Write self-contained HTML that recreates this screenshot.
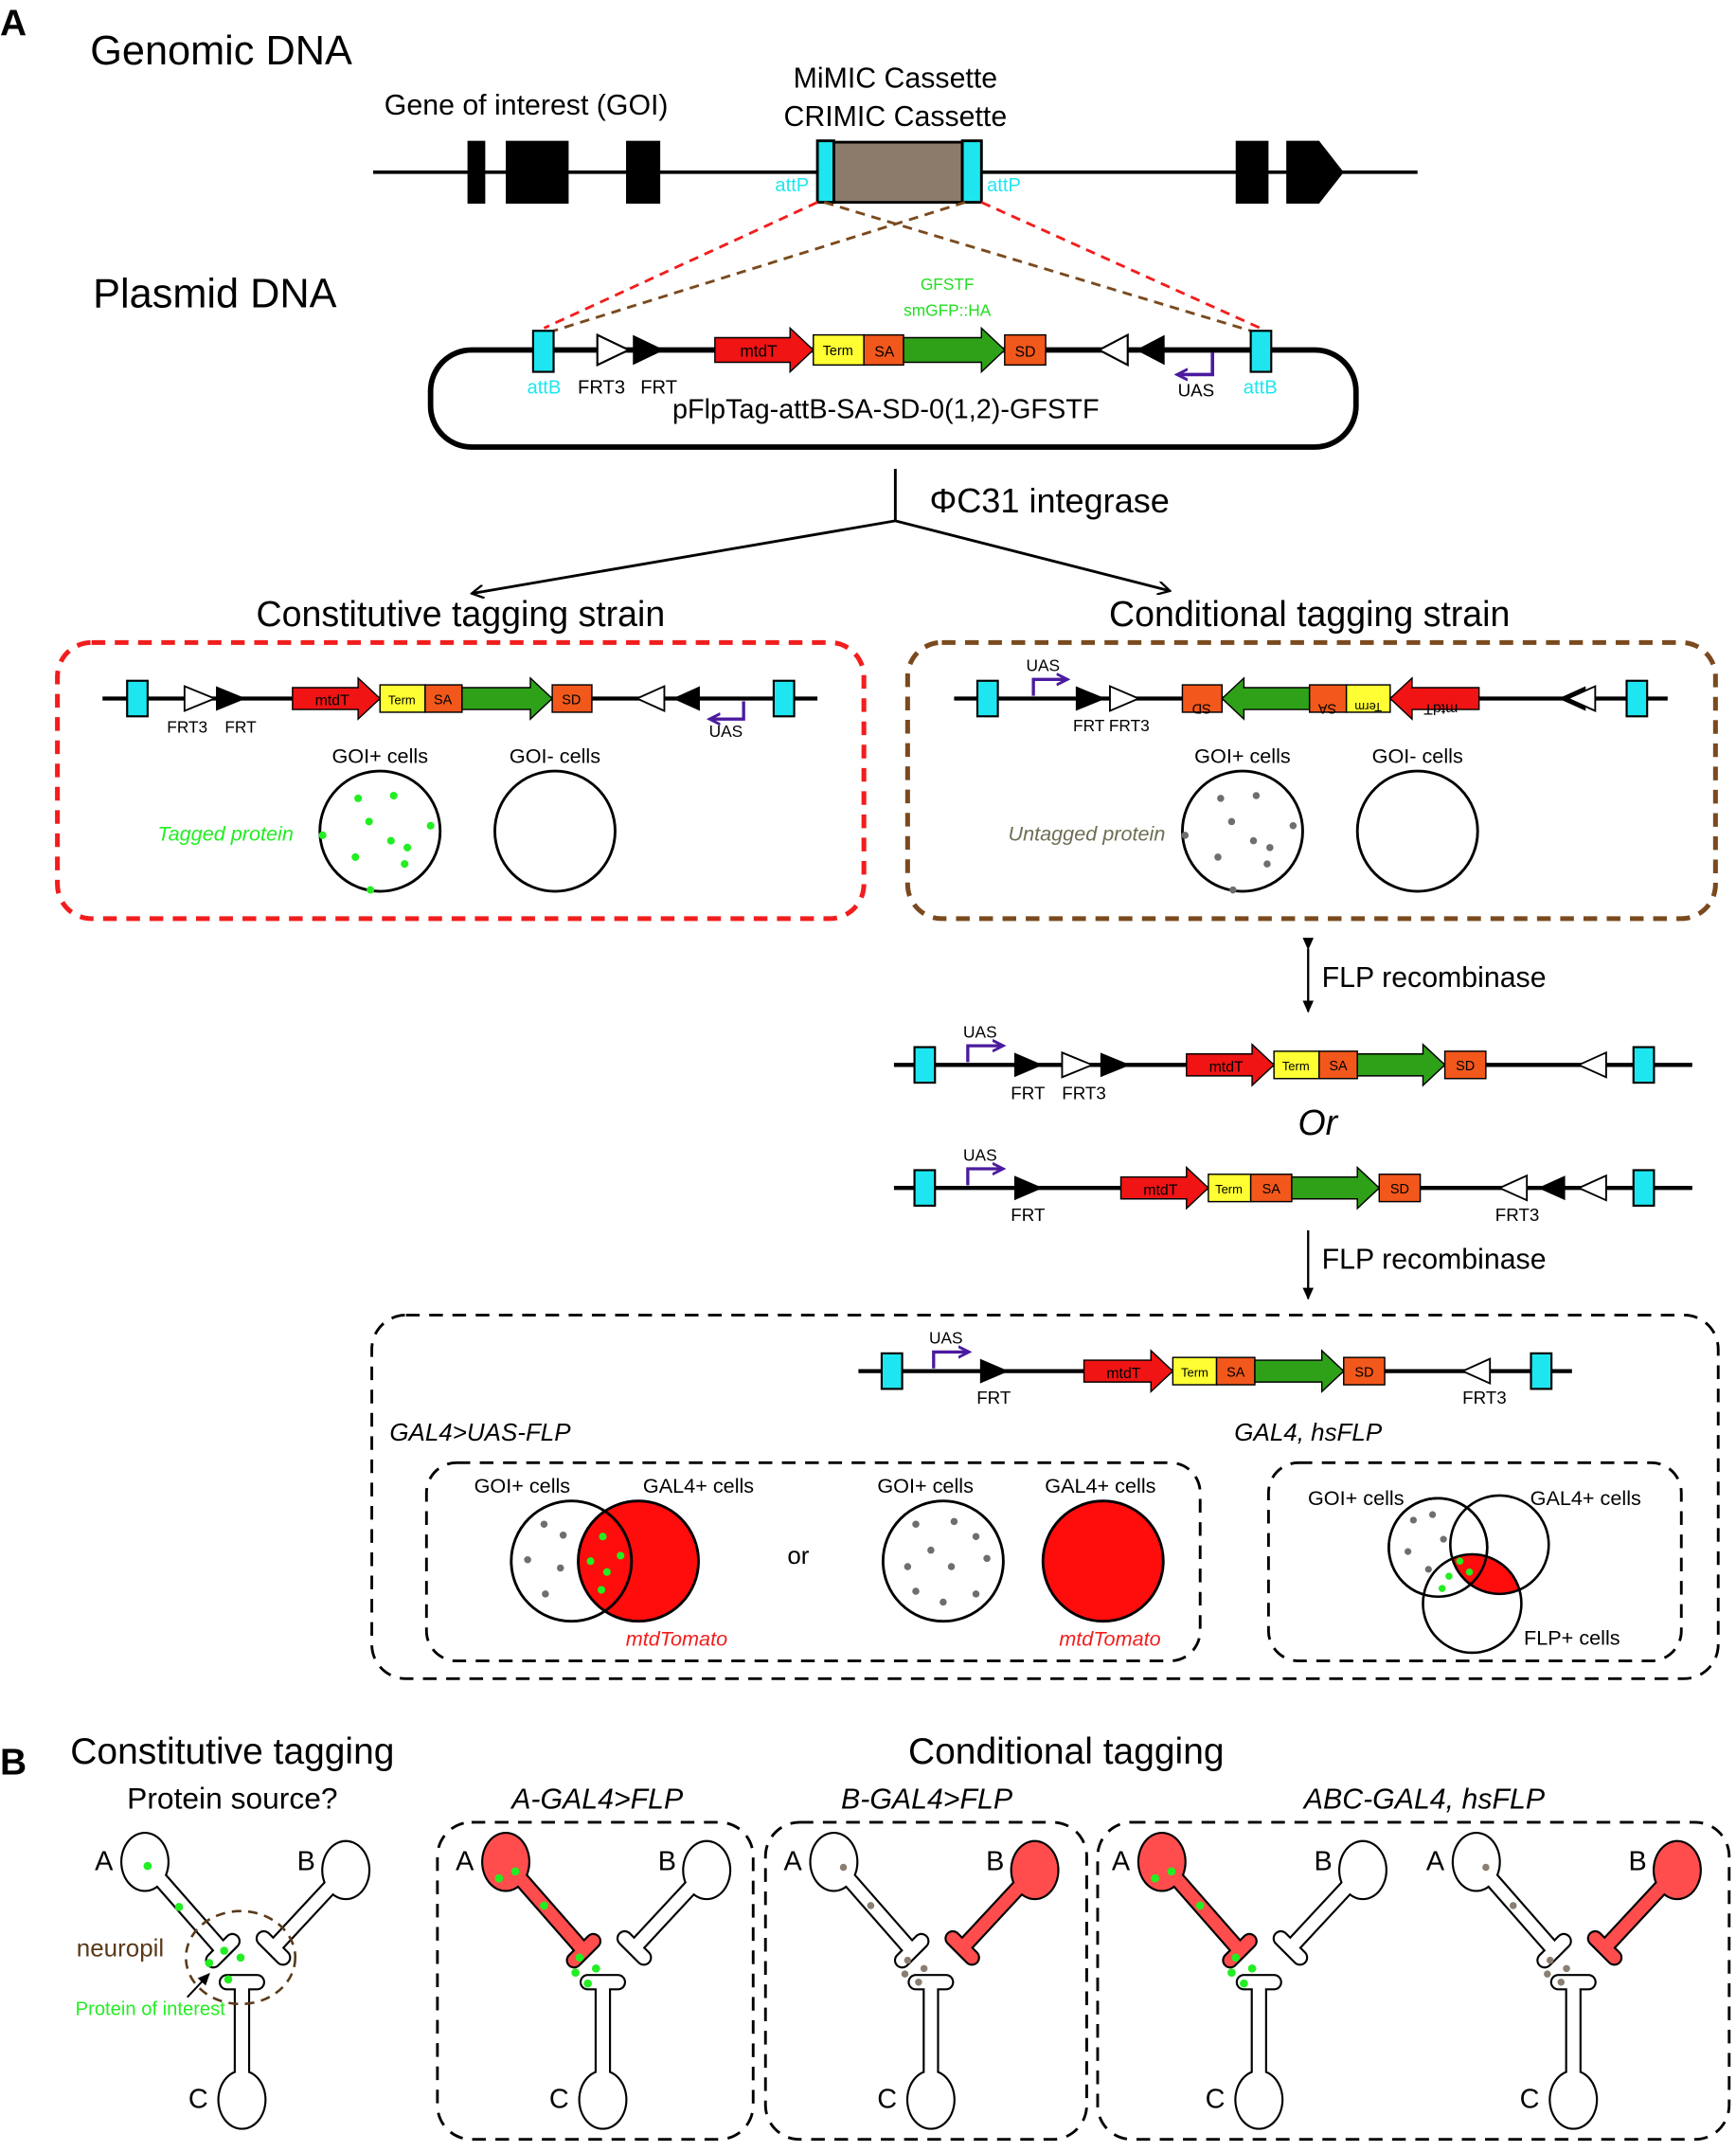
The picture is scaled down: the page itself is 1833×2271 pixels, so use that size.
<!DOCTYPE html>
<html><head><meta charset="utf-8"><style>
html,body{margin:0;padding:0;background:#fff}
svg{display:block}
text{font-family:"Liberation Sans",Arial,sans-serif}
</style></head><body>
<svg width="1833" height="2271" viewBox="0 0 1270 1573.5" preserveAspectRatio="none" xmlns="http://www.w3.org/2000/svg">
<defs>
<marker id="ah" markerWidth="10" markerHeight="10" refX="8" refY="5" orient="auto" markerUnits="userSpaceOnUse"><path d="M0,0 L9,5 L0,10" fill="none" stroke="#000" stroke-width="1.6"/></marker>
<marker id="ahf" markerWidth="10" markerHeight="10" refX="8" refY="5" orient="auto" markerUnits="userSpaceOnUse"><path d="M0,1 L9,5 L0,9z" fill="#000"/></marker>
<marker id="ahp" markerWidth="10" markerHeight="10" refX="7" refY="5" orient="auto" markerUnits="userSpaceOnUse"><path d="M0,1 L8,5 L0,9" fill="none" stroke="#4b1b9e" stroke-width="2"/></marker>
<g id="nA"><path d="M106,1362 L163,1427 M156,1434 L170,1420" stroke="#000" stroke-width="12" stroke-linecap="round" fill="none"/><ellipse cx="106" cy="1362" rx="18" ry="22" fill="#000"/><path d="M106,1362 L163,1427 M156,1434 L170,1420" stroke="currentColor" stroke-width="9" stroke-linecap="round" fill="none"/><ellipse cx="106" cy="1362" rx="16.5" ry="20.5" fill="currentColor"/></g>
<g id="nB"><path d="M253,1368 L200,1425 M193,1418 L207,1432" stroke="#000" stroke-width="12" stroke-linecap="round" fill="none"/><ellipse cx="253" cy="1368" rx="18" ry="22" fill="#000"/><path d="M253,1368 L200,1425 M193,1418 L207,1432" stroke="currentColor" stroke-width="9" stroke-linecap="round" fill="none"/><ellipse cx="253" cy="1368" rx="16.5" ry="20.5" fill="currentColor"/></g>
<g id="nC"><path d="M177,1533 L177,1455 M166,1450 L188,1450" stroke="#000" stroke-width="12" stroke-linecap="round" fill="none"/><ellipse cx="177" cy="1536" rx="18" ry="22" fill="#000"/><path d="M177,1533 L177,1455 M166,1450 L188,1450" stroke="#fff" stroke-width="9" stroke-linecap="round" fill="none"/><ellipse cx="177" cy="1536" rx="16.5" ry="20.5" fill="#fff"/></g>
<clipPath id="cf"><circle cx="1077" cy="1173" r="36"/></clipPath>
</defs>
<rect width="1270" height="1573.5" fill="#fff"/>

<text x="0" y="26" font-size="27" font-weight="bold">A</text>
<text x="66" y="47" font-size="30">Genomic DNA</text>
<text x="385" y="84" font-size="21" text-anchor="middle">Gene of interest (GOI)</text>
<text x="655" y="64" font-size="21" text-anchor="middle">MiMIC Cassette</text>
<text x="655" y="92" font-size="21" text-anchor="middle">CRIMIC Cassette</text>
<line x1="273" y1="126" x2="1037" y2="126" stroke="#000" stroke-width="2.5"/>
<rect x="342" y="103" width="13" height="46"/><rect x="370" y="103" width="46" height="46"/><rect x="458" y="103" width="25" height="46"/>
<rect x="904" y="103" width="24" height="46"/><path d="M941,103 H965 L983,126 L965,149 H941z"/>
<rect x="610" y="104" width="94" height="44" fill="#8c7b6b" stroke="#000" stroke-width="2"/>
<rect x="598" y="103" width="12" height="45" fill="#1ee6f0" stroke="#000" stroke-width="2"/>
<rect x="704" y="103" width="14" height="45" fill="#1ee6f0" stroke="#000" stroke-width="2"/>
<text x="567" y="140" font-size="14" fill="#1ee6f0">attP</text><text x="722" y="140" font-size="14" fill="#1ee6f0">attP</text>
<g stroke-width="2" stroke-dasharray="7,5" fill="none">
<line x1="598" y1="148" x2="398" y2="240" stroke="#f21d1d"/><line x1="718" y1="148" x2="922" y2="240" stroke="#f21d1d"/>
<line x1="706" y1="148" x2="405" y2="242" stroke="#7a4a1e"/><line x1="603" y1="148" x2="915" y2="242" stroke="#7a4a1e"/>
</g>
<text x="68" y="225" font-size="30">Plasmid DNA</text>
<rect x="315" y="256" width="677" height="71" rx="30" fill="none" stroke="#000" stroke-width="4"/>
<text x="693" y="212" font-size="12" fill="#22dd22" text-anchor="middle">GFSTF</text>
<text x="693" y="231" font-size="12" fill="#22dd22" text-anchor="middle">smGFP::HA</text>
<rect x="390" y="242" width="15" height="30" fill="#1ee6f0" stroke="#000" stroke-width="1.5"/>
<path d="M437,245 V267 L460,256z" fill="#fff" stroke="#000" stroke-width="1.5"/>
<path d="M463,245 V267 L486,256z" fill="#000"/>
<path d="M523,247 H578 V240 L595,256 L578,272 V265 H523z" fill="#f01414" stroke="#000" stroke-width="1"/>
<text x="555" y="261" font-size="12" text-anchor="middle">mtdT</text>
<rect x="595" y="245" width="37" height="22" fill="#ffff33" stroke="#000" stroke-width="1"/><text x="613" y="260" font-size="10" text-anchor="middle">Term</text>
<rect x="632" y="245" width="29" height="22" fill="#f2581b" stroke="#000" stroke-width="1"/><text x="647" y="261" font-size="11" text-anchor="middle">SA</text>
<path d="M661,247 H718 V240 L735,256 L718,272 V265 H661z" fill="#2ea119" stroke="#000" stroke-width="1"/>
<rect x="735" y="245" width="30" height="22" fill="#f2581b" stroke="#000" stroke-width="1"/><text x="750" y="261" font-size="11" text-anchor="middle">SD</text>
<path d="M825,245 V267 L804,256z" fill="#fff" stroke="#000" stroke-width="1.5"/>
<path d="M852,245 V267 L831,256z" fill="#000"/>
<path d="M887,258 V274 H862" fill="none" stroke="#4b1b9e" stroke-width="2.5" marker-end="url(#ahp)"/>
<text x="875" y="290" font-size="13" text-anchor="middle">UAS</text>
<rect x="915" y="242" width="15" height="30" fill="#1ee6f0" stroke="#000" stroke-width="1.5"/>
<text x="398" y="288" font-size="14" fill="#1ee6f0" text-anchor="middle">attB</text>
<text x="922" y="288" font-size="14" fill="#1ee6f0" text-anchor="middle">attB</text>
<text x="440" y="288" font-size="14" text-anchor="middle">FRT3</text><text x="482" y="288" font-size="14" text-anchor="middle">FRT</text>
<text x="648" y="306" font-size="20" text-anchor="middle">pFlpTag-attB-SA-SD-0(1,2)-GFSTF</text>

<line x1="655" y1="343" x2="655" y2="381" stroke="#000" stroke-width="2"/>
<line x1="655" y1="381" x2="346" y2="434" stroke="#000" stroke-width="2" marker-end="url(#ah)"/>
<line x1="655" y1="381" x2="855" y2="432" stroke="#000" stroke-width="2" marker-end="url(#ah)"/>
<text x="680" y="375" font-size="25">ΦC31 integrase</text>
<text x="337" y="458" font-size="26" text-anchor="middle">Constitutive tagging strain</text>
<text x="958" y="458" font-size="26" text-anchor="middle">Conditional tagging strain</text>

<rect x="42" y="470" width="590" height="202" rx="25" fill="none" stroke="#f21d1d" stroke-width="3.5" stroke-dasharray="10,7"/>
<rect x="664" y="470" width="591" height="202" rx="25" fill="none" stroke="#7a4a1e" stroke-width="3.5" stroke-dasharray="10,7"/>

<line x1="75" y1="511" x2="598" y2="511" stroke="#000" stroke-width="3"/>
<rect x="93" y="498" width="15" height="26" fill="#1ee6f0" stroke="#000" stroke-width="1.5"/>
<path d="M135,502 V520 L157,511z" fill="#fff" stroke="#000" stroke-width="1.3"/><path d="M158,502 V520 L180,511z"/>
<path d="M214,503 H262 V496 L278,511 L262,526 V519 H214z" fill="#f01414" stroke="#000"/><text x="243" y="516" font-size="11" text-anchor="middle">mtdT</text>
<rect x="278" y="501" width="33" height="20" fill="#ffff33" stroke="#000"/><text x="294" y="515" font-size="9" text-anchor="middle">Term</text>
<rect x="311" y="501" width="27" height="20" fill="#f2581b" stroke="#000"/><text x="324" y="515" font-size="10" text-anchor="middle">SA</text>
<path d="M338,503 H388 V496 L404,511 L388,526 V519 H338z" fill="#2ea119" stroke="#000"/>
<rect x="404" y="501" width="29" height="20" fill="#f2581b" stroke="#000"/><text x="418" y="515" font-size="10" text-anchor="middle">SD</text>
<path d="M486,502 V520 L466,511z" fill="#fff" stroke="#000" stroke-width="1.3"/><path d="M512,502 V520 L492,511z"/>
<path d="M544,513 V526 H520" fill="none" stroke="#4b1b9e" stroke-width="2.3" marker-end="url(#ahp)"/>
<rect x="566" y="498" width="15" height="26" fill="#1ee6f0" stroke="#000" stroke-width="1.5"/>
<text x="137" y="536" font-size="12" text-anchor="middle">FRT3</text><text x="176" y="536" font-size="12" text-anchor="middle">FRT</text><text x="531" y="539" font-size="12" text-anchor="middle">UAS</text>
<text x="278" y="558" font-size="15" text-anchor="middle">GOI+ cells</text><text x="406" y="558" font-size="15" text-anchor="middle">GOI- cells</text>
<circle cx="278" cy="608" r="44" fill="#fff" stroke="#000" stroke-width="2"/><circle cx="406" cy="608" r="44" fill="#fff" stroke="#000" stroke-width="2"/>
<g fill="#22ee22"><circle cx="262" cy="584" r="2.8"/><circle cx="288" cy="582" r="2.8"/><circle cx="270" cy="601" r="2.8"/><circle cx="315" cy="604" r="2.8"/><circle cx="236" cy="611" r="2.8"/><circle cx="286" cy="615" r="2.8"/><circle cx="298" cy="620" r="2.8"/><circle cx="260" cy="627" r="2.8"/><circle cx="296" cy="632" r="2.8"/><circle cx="271" cy="651" r="2.8"/></g>
<text x="165" y="615" font-size="15" font-style="italic" fill="#22ee22" text-anchor="middle">Tagged protein</text>

<line x1="698" y1="511" x2="1220" y2="511" stroke="#000" stroke-width="3"/>
<rect x="715" y="498" width="15" height="26" fill="#1ee6f0" stroke="#000" stroke-width="1.5"/>
<path d="M756,509 V497 H780" fill="none" stroke="#4b1b9e" stroke-width="2.3" marker-end="url(#ahp)"/>
<text x="763" y="491" font-size="12" text-anchor="middle">UAS</text>
<path d="M787,502 V520 L809,511z"/><path d="M812,502 V520 L833,511z" fill="#fff" stroke="#000" stroke-width="1.3"/>
<text x="813" y="535" font-size="12" text-anchor="middle">FRT FRT3</text>
<rect x="865" y="501" width="29" height="20" fill="#f2581b" stroke="#000"/><text x="879" y="507" font-size="10" text-anchor="middle" transform="rotate(180 879 511)">SD</text>
<path d="M958,503 H910 V496 L894,511 L910,526 V519 H958z" fill="#2ea119" stroke="#000"/>
<rect x="958" y="501" width="27" height="20" fill="#f2581b" stroke="#000"/><text x="971" y="507" font-size="10" text-anchor="middle" transform="rotate(180 971 511)">SA</text>
<rect x="985" y="501" width="32" height="20" fill="#ffff33" stroke="#000"/><text x="1001" y="508" font-size="9" text-anchor="middle" transform="rotate(180 1001 511)">Term</text>
<path d="M1082,503 H1033 V496 L1017,511 L1033,526 V519 H1082z" fill="#f01414" stroke="#000"/><text x="1054" y="507" font-size="11" text-anchor="middle" transform="rotate(180 1054 511)">mtdT</text>
<path d="M1160,502 V520 L1140,511z"/><path d="M1167,502 V520 L1147,511z" fill="#fff" stroke="#000" stroke-width="1.3"/>
<rect x="1190" y="498" width="15" height="26" fill="#1ee6f0" stroke="#000" stroke-width="1.5"/>
<text x="909" y="558" font-size="15" text-anchor="middle">GOI+ cells</text><text x="1037" y="558" font-size="15" text-anchor="middle">GOI- cells</text>
<circle cx="909" cy="608" r="44" fill="#fff" stroke="#000" stroke-width="2"/><circle cx="1037" cy="608" r="44" fill="#fff" stroke="#000" stroke-width="2"/>
<g fill="#6e6e6e"><circle cx="893" cy="584" r="2.6"/><circle cx="919" cy="582" r="2.6"/><circle cx="901" cy="601" r="2.6"/><circle cx="946" cy="604" r="2.6"/><circle cx="867" cy="611" r="2.6"/><circle cx="917" cy="615" r="2.6"/><circle cx="929" cy="620" r="2.6"/><circle cx="891" cy="627" r="2.6"/><circle cx="927" cy="632" r="2.6"/><circle cx="902" cy="651" r="2.6"/></g>
<text x="795" y="615" font-size="15" font-style="italic" fill="#6e6e55" text-anchor="middle">Untagged protein</text>

<line x1="957" y1="694" x2="957" y2="740" stroke="#000" stroke-width="1.6" marker-end="url(#ahf)" marker-start="url(#ahf)"/>
<text x="967" y="722" font-size="21">FLP recombinase</text>

<line x1="654" y1="779" x2="1238" y2="779" stroke="#000" stroke-width="3"/>
<rect x="669" y="766" width="15" height="26" fill="#1ee6f0" stroke="#000" stroke-width="1.5"/>
<path d="M708,777 V765 H733" fill="none" stroke="#4b1b9e" stroke-width="2.3" marker-end="url(#ahp)"/><text x="717" y="759" font-size="12" text-anchor="middle">UAS</text>
<path d="M742,770 V788 L763,779z"/><path d="M777,770 V788 L799,779z" fill="#fff" stroke="#000" stroke-width="1.3"/><path d="M805,770 V788 L827,779z"/>
<text x="752" y="804" font-size="13" text-anchor="middle">FRT</text><text x="793" y="804" font-size="13" text-anchor="middle">FRT3</text>
<path d="M868,771 H916 V764 L932,779 L916,794 V787 H868z" fill="#f01414" stroke="#000"/><text x="897" y="784" font-size="11" text-anchor="middle">mtdT</text>
<rect x="932" y="769" width="33" height="20" fill="#ffff33" stroke="#000"/><text x="948" y="783" font-size="9" text-anchor="middle">Term</text>
<rect x="965" y="769" width="28" height="20" fill="#f2581b" stroke="#000"/><text x="979" y="783" font-size="10" text-anchor="middle">SA</text>
<path d="M993,771 H1041 V764 L1057,779 L1041,794 V787 H993z" fill="#2ea119" stroke="#000"/>
<rect x="1057" y="769" width="30" height="20" fill="#f2581b" stroke="#000"/><text x="1072" y="783" font-size="10" text-anchor="middle">SD</text>
<path d="M1175,770 V788 L1155,779z" fill="#fff" stroke="#000" stroke-width="1.3"/>
<rect x="1195" y="766" width="15" height="26" fill="#1ee6f0" stroke="#000" stroke-width="1.5"/>
<text x="964" y="830" font-size="26" font-style="italic" text-anchor="middle">Or</text>

<line x1="654" y1="869" x2="1238" y2="869" stroke="#000" stroke-width="3"/>
<rect x="669" y="856" width="15" height="26" fill="#1ee6f0" stroke="#000" stroke-width="1.5"/>
<path d="M708,867 V855 H733" fill="none" stroke="#4b1b9e" stroke-width="2.3" marker-end="url(#ahp)"/><text x="717" y="849" font-size="12" text-anchor="middle">UAS</text>
<path d="M742,860 V878 L763,869z"/><text x="752" y="893" font-size="13" text-anchor="middle">FRT</text>
<path d="M820,861 H868 V854 L884,869 L868,884 V877 H820z" fill="#f01414" stroke="#000"/><text x="849" y="874" font-size="11" text-anchor="middle">mtdT</text>
<rect x="884" y="859" width="31" height="20" fill="#ffff33" stroke="#000"/><text x="899" y="873" font-size="9" text-anchor="middle">Term</text>
<rect x="915" y="859" width="30" height="20" fill="#f2581b" stroke="#000"/><text x="930" y="873" font-size="10" text-anchor="middle">SA</text>
<path d="M945,861 H993 V854 L1009,869 L993,884 V877 H945z" fill="#2ea119" stroke="#000"/>
<rect x="1009" y="859" width="30" height="20" fill="#f2581b" stroke="#000"/><text x="1024" y="873" font-size="10" text-anchor="middle">SD</text>
<path d="M1117,860 V878 L1097,869z" fill="#fff" stroke="#000" stroke-width="1.3"/><path d="M1145,860 V878 L1125,869z"/><path d="M1175,860 V878 L1155,869z" fill="#fff" stroke="#000" stroke-width="1.3"/>
<text x="1110" y="893" font-size="13" text-anchor="middle">FRT3</text>
<rect x="1195" y="856" width="15" height="26" fill="#1ee6f0" stroke="#000" stroke-width="1.5"/>

<line x1="957" y1="900" x2="957" y2="950" stroke="#000" stroke-width="1.6" marker-end="url(#ahf)"/>
<text x="967" y="928" font-size="21">FLP recombinase</text>

<rect x="272" y="962" width="985" height="266" rx="25" fill="none" stroke="#000" stroke-width="2" stroke-dasharray="10,7"/>
<line x1="628" y1="1003" x2="1150" y2="1003" stroke="#000" stroke-width="3"/>
<rect x="645" y="990" width="15" height="26" fill="#1ee6f0" stroke="#000" stroke-width="1.5"/>
<path d="M683,1001 V989 H708" fill="none" stroke="#4b1b9e" stroke-width="2.3" marker-end="url(#ahp)"/><text x="692" y="983" font-size="12" text-anchor="middle">UAS</text>
<path d="M717,994 V1012 L738,1003z"/><text x="727" y="1027" font-size="13" text-anchor="middle">FRT</text>
<path d="M793,995 H842 V988 L858,1003 L842,1018 V1011 H793z" fill="#f01414" stroke="#000"/><text x="822" y="1008" font-size="11" text-anchor="middle">mtdT</text>
<rect x="858" y="993" width="32" height="20" fill="#ffff33" stroke="#000"/><text x="874" y="1007" font-size="9" text-anchor="middle">Term</text>
<rect x="890" y="993" width="28" height="20" fill="#f2581b" stroke="#000"/><text x="904" y="1007" font-size="10" text-anchor="middle">SA</text>
<path d="M918,995 H967 V988 L983,1003 L967,1018 V1011 H918z" fill="#2ea119" stroke="#000"/>
<rect x="983" y="993" width="30" height="20" fill="#f2581b" stroke="#000"/><text x="998" y="1007" font-size="10" text-anchor="middle">SD</text>
<path d="M1090,994 V1012 L1070,1003z" fill="#fff" stroke="#000" stroke-width="1.3"/><text x="1086" y="1027" font-size="13" text-anchor="middle">FRT3</text>
<rect x="1120" y="990" width="15" height="26" fill="#1ee6f0" stroke="#000" stroke-width="1.5"/>

<text x="285" y="1054" font-size="18" font-style="italic">GAL4&gt;UAS-FLP</text>
<text x="903" y="1054" font-size="18" font-style="italic">GAL4, hsFLP</text>
<rect x="312" y="1070" width="566" height="145" rx="22" fill="none" stroke="#000" stroke-width="2" stroke-dasharray="10,7"/>
<rect x="928" y="1070" width="302" height="145" rx="22" fill="none" stroke="#000" stroke-width="2" stroke-dasharray="10,7"/>
<text x="382" y="1092" font-size="15" text-anchor="middle">GOI+ cells</text><text x="511" y="1092" font-size="15" text-anchor="middle">GAL4+ cells</text>
<text x="677" y="1092" font-size="15" text-anchor="middle">GOI+ cells</text><text x="805" y="1092" font-size="15" text-anchor="middle">GAL4+ cells</text>
<circle cx="418" cy="1142" r="44" fill="#fff"/><circle cx="467" cy="1142" r="44" fill="#ff0d0d"/>
<circle cx="418" cy="1142" r="44" fill="none" stroke="#000" stroke-width="2"/><circle cx="467" cy="1142" r="44" fill="none" stroke="#000" stroke-width="2"/>
<g fill="#6e6e6e"><circle cx="398" cy="1115" r="2.6"/><circle cx="412" cy="1123" r="2.6"/><circle cx="386" cy="1141" r="2.6"/><circle cx="410" cy="1147" r="2.6"/><circle cx="399" cy="1166" r="2.6"/></g>
<g fill="#22ee22"><circle cx="441" cy="1124" r="2.8"/><circle cx="454" cy="1138" r="2.8"/><circle cx="432" cy="1142" r="2.8"/><circle cx="444" cy="1150" r="2.8"/><circle cx="440" cy="1163" r="2.8"/></g>
<text x="495" y="1204" font-size="15" font-style="italic" fill="#f21d1d" text-anchor="middle">mtdTomato</text>
<text x="584" y="1144" font-size="18" text-anchor="middle">or</text>
<circle cx="690" cy="1142" r="44" fill="#fff" stroke="#000" stroke-width="2"/><circle cx="807" cy="1142" r="44" fill="#ff0d0d" stroke="#000" stroke-width="2"/>
<g fill="#6e6e6e"><circle cx="670" cy="1115" r="2.6"/><circle cx="698" cy="1113" r="2.6"/><circle cx="681" cy="1134" r="2.6"/><circle cx="714" cy="1124" r="2.6"/><circle cx="664" cy="1146" r="2.6"/><circle cx="696" cy="1146" r="2.6"/><circle cx="722" cy="1140" r="2.6"/><circle cx="670" cy="1164" r="2.6"/><circle cx="690" cy="1172" r="2.6"/><circle cx="714" cy="1166" r="2.6"/></g>
<text x="812" y="1204" font-size="15" font-style="italic" fill="#f21d1d" text-anchor="middle">mtdTomato</text>
<circle cx="1052" cy="1132" r="36" fill="#fff" stroke="#000" stroke-width="1.8"/>
<circle cx="1077" cy="1173" r="36" fill="#fff"/>
<circle cx="1097" cy="1130" r="36" fill="#ff0d0d" clip-path="url(#cf)"/>
<circle cx="1052" cy="1132" r="36" fill="none" stroke="#000" stroke-width="1.8"/>
<circle cx="1097" cy="1130" r="36" fill="none" stroke="#000" stroke-width="1.8"/>
<circle cx="1077" cy="1173" r="36" fill="none" stroke="#000" stroke-width="1.8"/>
<g fill="#6e6e6e"><circle cx="1034" cy="1112" r="2.5"/><circle cx="1048" cy="1108" r="2.5"/><circle cx="1056" cy="1126" r="2.5"/><circle cx="1030" cy="1135" r="2.5"/><circle cx="1045" cy="1148" r="2.5"/></g>
<g fill="#22ee22"><circle cx="1068" cy="1142" r="2.6"/><circle cx="1075" cy="1150" r="2.6"/><circle cx="1060" cy="1153" r="2.6"/><circle cx="1055" cy="1162" r="2.6"/></g>
<text x="992" y="1101" font-size="15" text-anchor="middle">GOI+ cells</text><text x="1160" y="1101" font-size="15" text-anchor="middle">GAL4+ cells</text><text x="1150" y="1203" font-size="15" text-anchor="middle">FLP+ cells</text>

<text x="0" y="1298" font-size="27" font-weight="bold">B</text>
<text x="170" y="1290" font-size="27" text-anchor="middle">Constitutive tagging</text>
<text x="170" y="1323" font-size="22" text-anchor="middle">Protein source?</text>
<text x="780" y="1290" font-size="27" text-anchor="middle">Conditional tagging</text>
<text x="437" y="1323" font-size="21" font-style="italic" text-anchor="middle">A-GAL4&gt;FLP</text>
<text x="678" y="1323" font-size="21" font-style="italic" text-anchor="middle">B-GAL4&gt;FLP</text>
<text x="1042" y="1323" font-size="21" font-style="italic" text-anchor="middle">ABC-GAL4, hsFLP</text>
<rect x="320" y="1333" width="231" height="232" rx="25" fill="none" stroke="#000" stroke-width="2" stroke-dasharray="10,7"/>
<rect x="560" y="1333" width="235" height="232" rx="25" fill="none" stroke="#000" stroke-width="2" stroke-dasharray="10,7"/>
<rect x="803" y="1333" width="462" height="232" rx="25" fill="none" stroke="#000" stroke-width="2" stroke-dasharray="10,7"/>

<use href="#nA" style="color:#fff"/><use href="#nB" style="color:#fff"/><use href="#nC"/>
<ellipse cx="176" cy="1432" rx="40" ry="34" fill="none" stroke="#5a3a1a" stroke-width="1.8" stroke-dasharray="7,5"/>
<g fill="#22ee22"><circle cx="108" cy="1365" r="3"/><circle cx="131" cy="1395" r="3"/><circle cx="153" cy="1436" r="3"/><circle cx="164" cy="1427" r="3"/><circle cx="176" cy="1432" r="3"/><circle cx="167" cy="1448" r="3"/></g>
<text x="76" y="1368" font-size="20" text-anchor="middle">A</text><text x="224" y="1368" font-size="20" text-anchor="middle">B</text><text x="145" y="1542" font-size="20" text-anchor="middle">C</text>
<text x="88" y="1431" font-size="18" fill="#5a3a1a" text-anchor="middle">neuropil</text>
<text x="110" y="1474" font-size="14" fill="#22ee22" text-anchor="middle">Protein of interest</text>
<line x1="137" y1="1461" x2="153" y2="1444" stroke="#000" stroke-width="1.4" marker-end="url(#ahf)"/>

<g transform="translate(264,0)"><use href="#nA" style="color:#ff4d4d"/><use href="#nB" style="color:#fff"/><use href="#nC"/>
<g fill="#22ee22"><circle cx="113" cy="1369" r="3"/><circle cx="101" cy="1374" r="3"/><circle cx="134" cy="1394" r="3"/><circle cx="160" cy="1432" r="3"/><circle cx="172" cy="1440" r="3"/><circle cx="157" cy="1443" r="3"/><circle cx="166" cy="1451" r="3"/></g>
<text x="76" y="1368" font-size="20" text-anchor="middle">A</text><text x="224" y="1368" font-size="20" text-anchor="middle">B</text><text x="145" y="1542" font-size="20" text-anchor="middle">C</text></g>

<g transform="translate(504,0)"><use href="#nA" style="color:#fff"/><use href="#nB" style="color:#ff4d4d"/><use href="#nC"/>
<g fill="#8a7f70"><circle cx="113" cy="1366" r="2.6"/><circle cx="133" cy="1394" r="2.6"/><circle cx="160" cy="1434" r="2.6"/><circle cx="172" cy="1440" r="2.6"/><circle cx="158" cy="1444" r="2.6"/><circle cx="168" cy="1450" r="2.6"/></g>
<text x="76" y="1368" font-size="20" text-anchor="middle">A</text><text x="224" y="1368" font-size="20" text-anchor="middle">B</text><text x="145" y="1542" font-size="20" text-anchor="middle">C</text></g>

<g transform="translate(744,0)"><use href="#nA" style="color:#ff4d4d"/><use href="#nB" style="color:#fff"/><use href="#nC"/>
<g fill="#22ee22"><circle cx="113" cy="1369" r="3"/><circle cx="101" cy="1374" r="3"/><circle cx="134" cy="1394" r="3"/><circle cx="160" cy="1432" r="3"/><circle cx="172" cy="1440" r="3"/><circle cx="157" cy="1443" r="3"/><circle cx="166" cy="1451" r="3"/></g>
<text x="76" y="1368" font-size="20" text-anchor="middle">A</text><text x="224" y="1368" font-size="20" text-anchor="middle">B</text><text x="145" y="1542" font-size="20" text-anchor="middle">C</text></g>

<g transform="translate(974,0)"><use href="#nA" style="color:#fff"/><use href="#nB" style="color:#ff4d4d"/><use href="#nC"/>
<g fill="#8a7f70"><circle cx="113" cy="1366" r="2.6"/><circle cx="133" cy="1394" r="2.6"/><circle cx="160" cy="1434" r="2.6"/><circle cx="172" cy="1440" r="2.6"/><circle cx="158" cy="1444" r="2.6"/><circle cx="168" cy="1450" r="2.6"/></g>
<text x="76" y="1368" font-size="20" text-anchor="middle">A</text><text x="224" y="1368" font-size="20" text-anchor="middle">B</text><text x="145" y="1542" font-size="20" text-anchor="middle">C</text></g>
</svg>
</body></html>
